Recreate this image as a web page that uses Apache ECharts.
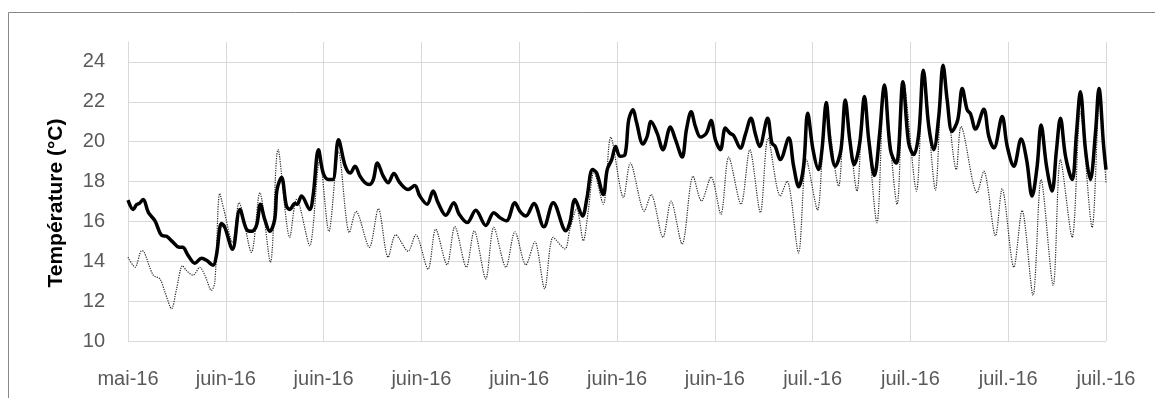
<!DOCTYPE html>
<html><head><meta charset="utf-8">
<script src="https://cdn.jsdelivr.net/npm/echarts@6/dist/echarts.min.js"></script>
<style>html,body{margin:0;padding:0;background:#fff}#c{width:1155px;height:398px}</style>
</head><body><div id="c"></div><script>
// x tick labels (one every 5 days)
const xLabels = ['mai-16','juin-16','juin-16','juin-16','juin-16','juin-16','juin-16','juil.-16','juil.-16','juil.-16','juil.-16'];
const yTitle = 'Température (°C)';

// Thick series: time (days from first tick) and temperature (°C)
const thickT = [0.0,0.27,0.44,0.58,0.78,1.04,1.38,1.72,1.97,2.31,2.62,2.79,3.08,3.42,3.76,4.01,4.35,4.52,4.78,4.95,5.34,5.72,6.06,6.31,6.57,6.77,6.99,7.25,7.5,7.62,7.85,8.1,8.27,8.53,8.65,8.87,9.29,9.46,9.74,9.98,10.25,10.47,10.76,11.1,11.36,11.61,11.86,12.12,12.34,12.54,12.75,13.05,13.3,13.59,13.9,14.32,14.66,14.92,15.29,15.6,15.85,16.25,16.66,16.93,17.34,17.78,18.29,18.7,19.01,19.35,19.78,20.03,20.34,20.75,21.26,21.74,22.39,22.59,22.85,23.24,23.45,23.75,23.96,24.3,24.5,24.73,24.93,25.15,25.41,25.6,25.82,25.99,26.33,26.54,26.74,27.05,27.35,27.73,27.99,28.33,28.55,28.79,29.01,29.27,29.57,29.81,30.03,30.29,30.54,30.77,30.97,31.31,31.56,31.85,32.07,32.29,32.7,32.92,33.09,33.35,33.78,34.03,34.29,34.54,34.75,35.02,35.3,35.48,35.7,35.9,36.16,36.45,36.67,36.9,37.13,37.41,37.65,37.87,38.16,38.43,38.67,38.98,39.28,39.4,39.62,39.91,40.17,40.43,40.66,40.94,41.19,41.45,41.67,41.88,42.13,42.42,42.65,42.9,43.07,43.33,43.75,44.01,44.27,44.69,44.95,45.29,45.66,45.94,46.22,46.48,46.68,46.96,47.24,47.47,47.67,47.93,48.27,48.49,48.69,48.95,49.2,49.46,49.64,49.88,50.0];
const thickV = [17.07,16.6,16.85,16.9,17.1,16.45,16.03,15.3,15.25,14.95,14.7,14.7,14.28,13.9,14.15,14.05,13.8,14.3,15.9,15.7,14.6,16.6,15.6,15.5,15.8,16.86,16.1,15.5,16.1,17.6,18.2,16.77,16.6,16.9,16.86,17.27,16.6,17.27,19.6,18.43,18.1,18.1,20.1,18.8,18.43,18.77,18.27,17.94,17.85,18.1,18.93,18.27,17.94,18.4,17.94,17.6,17.8,17.27,16.86,17.52,16.94,16.31,16.94,16.36,15.94,16.56,15.8,16.44,16.19,16.03,16.94,16.52,16.27,16.9,15.73,16.94,15.53,15.94,17.1,16.27,17.1,18.6,18.43,17.35,18.6,19.1,19.76,19.27,19.35,21.1,21.6,21.0,19.88,20.26,21.01,20.43,19.6,20.73,20.1,19.23,20.6,21.5,20.76,20.23,20.43,21.06,20.1,19.6,20.68,20.43,20.3,19.68,20.35,21.18,20.4,19.76,21.18,19.93,19.76,19.1,20.18,18.77,17.74,18.77,21.43,19.6,18.6,19.6,21.96,19.93,18.77,19.6,22.09,20.1,18.85,19.93,22.26,20.1,18.3,20.43,22.84,19.6,18.93,19.6,23.0,19.93,19.35,20.43,23.58,20.76,19.6,21.26,23.83,22.09,20.51,21.09,22.67,21.6,21.4,20.63,21.62,20.26,19.68,21.26,19.76,18.77,20.13,19.1,17.27,18.77,20.84,18.77,17.52,19.6,21.18,19.27,18.1,20.43,22.5,19.6,18.1,20.43,22.67,19.76,18.6];

// Thin dotted series
const thinT = [0.0,0.36,0.7,0.82,1.29,1.63,1.89,2.23,2.48,2.79,2.99,3.33,3.67,3.93,4.27,4.44,4.69,4.9,5.34,5.68,6.31,6.74,7.28,7.67,8.27,8.61,8.78,9.29,9.8,10.27,10.76,11.32,11.66,12.34,12.8,13.3,13.69,14.32,14.71,15.34,15.73,16.31,16.71,17.3,17.7,18.29,18.7,19.32,19.78,20.34,20.8,21.3,21.74,22.34,22.59,22.94,23.28,23.53,23.82,24.3,24.68,25.33,25.68,26.4,26.74,27.35,27.76,28.33,28.89,29.32,29.81,30.31,30.71,31.34,31.79,32.33,32.72,33.35,33.69,34.28,34.68,35.25,35.68,36.33,36.67,37.27,37.61,38.29,38.67,39.32,39.66,40.31,40.68,41.28,41.67,42.35,42.59,43.41,43.75,44.35,44.69,45.29,45.71,46.27,46.68,47.3,47.67,48.27,48.69,49.29,49.67,50.0];
const thinV = [14.2,13.7,14.53,14.48,13.3,13.12,12.45,11.62,12.6,13.78,13.53,13.3,13.7,13.3,12.54,12.95,17.4,16.6,14.95,16.94,14.45,17.44,13.95,19.6,15.2,17.1,16.77,14.78,19.1,15.5,19.5,15.44,16.5,14.7,16.64,14.2,15.33,14.5,15.33,13.6,15.61,13.82,15.74,13.7,15.53,13.12,15.7,13.7,15.48,13.82,14.98,12.62,15.2,14.62,15.6,16.64,15.03,16.52,18.5,16.86,20.23,17.2,18.93,16.52,17.35,15.2,17.02,14.86,18.27,17.02,18.23,16.36,19.23,16.86,19.6,16.44,20.18,17.27,18.02,14.42,19.1,16.57,21.63,17.77,22.0,17.52,22.26,15.94,22.59,16.86,22.92,17.52,23.4,17.57,23.75,18.6,20.76,17.44,18.52,15.28,17.64,13.7,16.55,12.29,18.1,12.79,19.1,15.2,21.5,15.7,22.09,17.9];

const pairs = (t, v) => t.map((x, i) => [x, v[i]]);
const FONT = '"Liberation Sans", Arial, sans-serif';

const chart = echarts.init(document.getElementById('c'), null, {renderer: 'canvas'});
chart.setOption({
  animation: false,
  backgroundColor: '#ffffff',
  grid: {left: 128, top: 42, right: 49, bottom: 57, containLabel: false},
  xAxis: {
    type: 'value', min: 0, max: 50, interval: 5,
    axisLine: {show: false}, axisTick: {show: false},
    splitLine: {show: true, lineStyle: {color: '#d9d9d9', width: 1}},
    axisLabel: {
      show: true, showMinLabel: true, showMaxLabel: true, margin: 28,
      color: '#595959', fontFamily: FONT, fontSize: 20,
      formatter: v => xLabels[Math.round(v / 5)] || ''
    }
  },
  yAxis: {
    type: 'value', min: 10, max: 25, interval: 2,
    axisLine: {show: true, lineStyle: {color: '#d9d9d9', width: 1}},
    axisTick: {show: false},
    splitLine: {show: true, lineStyle: {color: ['#d9d9d9','#d9d9d9','#d9d9d9','#d9d9d9','#d9d9d9','#d9d9d9','#d9d9d9','#d9d9d9','rgba(0,0,0,0)'], width: 1}},
    axisLabel: {
      margin: 23, color: '#595959', fontFamily: FONT, fontSize: 20,
      formatter: v => (v > 24 ? '' : String(v))
    }
  },
  series: [
    {
      name: 'fin', type: 'line', data: pairs(thinT, thinV), showSymbol: false,
      smooth: 0.3, lineStyle: {color: '#262626', width: 1.2, type: 'dotted'}, z: 2
    },
    {
      name: 'épais', type: 'line', data: pairs(thickT, thickV), showSymbol: false,
      smooth: 0.35, lineStyle: {color: '#000000', width: 3.5}, z: 3
    }
  ],
  graphic: [
    {type: 'rect', shape: {x: 8.5, y: 12.5, width: 1300, height: 600}, style: {fill: null, stroke: '#888888', lineWidth: 1}, silent: true},
    {type: 'text', x: 56, y: 203, rotation: Math.PI / 2,
     style: {text: yTitle, font: 'bold 21px ' + FONT, fill: '#000000', textAlign: 'center', textVerticalAlign: 'middle'}}
  ]
});
</script></body></html>
